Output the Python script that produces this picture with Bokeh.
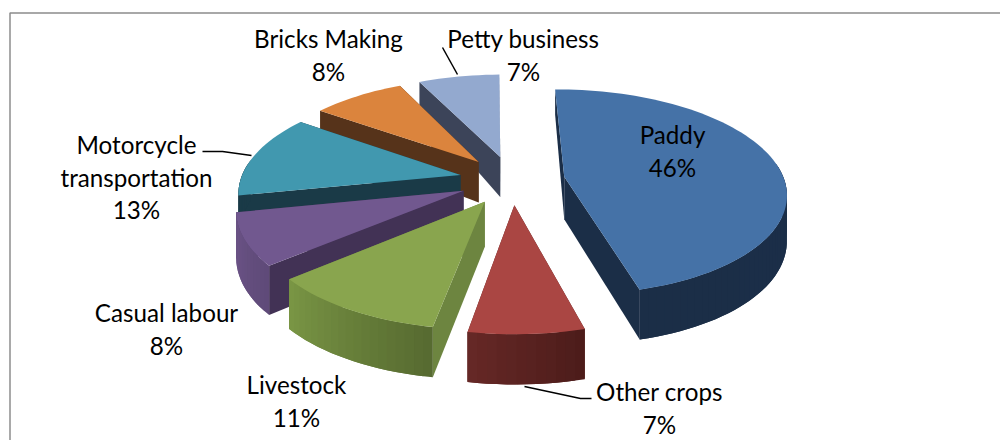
import math

from bokeh.core.properties import value
from bokeh.embed import file_html
from bokeh.models import ColumnDataSource, Range1d
from bokeh.plotting import figure
from bokeh.resources import INLINE

# Income sources and their shares (percent)
categories = ["Paddy", "Other crops", "Livestock", "Casual labour",
              "Motorcycle transportation", "Bricks Making", "Petty business"]
shares = [46, 7, 11, 8, 13, 8, 7]

top_colors = ["#4572A7", "#AA4643", "#89A54E", "#71588F", "#4198AF", "#DB843D", "#93A9CF"]
cut_colors = ["#1B2E47", "#5A2221", "#6D8540", "#423255", "#1A3A47", "#56331A", "#3C4459"]
# Rim shading, from the start angle of a slice to its end angle
rim_from = ["#1B2F4A", "#4C1C1A", "#566A30", "#5E4A78", "#1A3A47", "#56331A", "#3C4459"]
rim_to = ["#1B2E47", "#662826", "#7A9645", "#6D5488", "#1A3A47", "#56331A", "#3C4459"]

# Pie projection
VX, VY = 511.5, 179.5      # projected pie centre on the page
RADIUS = 220.0
TILT = 0.46                # vertical squash of the pie plane
PERSPECTIVE = 0.15
EXPLODE = 53.0
FIRST_ANGLE = math.radians(-0.7)


def wall_depth(yn):
    return 43 + 12 * yn - 5 * yn * yn


def project(px, py):
    s = 1 / (1 - PERSPECTIVE * py / RADIUS)
    return VX + px * s, VY + TILT * py * s


def mix(c0, c1, t):
    a = [int(c0[i:i + 2], 16) for i in (1, 3, 5)]
    b = [int(c1[i:i + 2], 16) for i in (1, 3, 5)]
    return "#%02x%02x%02x" % tuple(round(u + (v - u) * t) for u, v in zip(a, b))


def ground(ex, ey, angle):
    return ex + RADIUS * math.sin(angle), ey - RADIUS * math.cos(angle)


xs, ys, fills = [], [], []


def add_poly(pts, colour):
    xs.append([q[0] for q in pts])
    ys.append([q[1] for q in pts])
    fills.append(colour)


def top_point(g):
    return project(*g)


def low_point(g):
    x, y = project(*g)
    return x, y + wall_depth(g[1] / RADIUS)


# Slices run clockwise from twelve o'clock
slices = []
start = FIRST_ANGLE
for i, share in enumerate(shares):
    sweep = share / sum(shares) * 2 * math.pi
    slices.append((i, start, start + sweep))
    start += sweep

# Paint from the back of the pie to the front
slices.sort(key=lambda s: -math.cos((s[1] + s[2]) / 2))

for i, a0, a1 in slices:
    mid = (a0 + a1) / 2
    ex, ey = EXPLODE * math.sin(mid), -EXPLODE * math.cos(mid)
    apex = (ex, ey)
    steps = max(6, int((a1 - a0) / math.radians(2)))
    rim = [ground(ex, ey, a0 + (a1 - a0) * j / steps) for j in range(steps + 1)]

    # radial cut faces
    for edge in (rim[-1], rim[0]):
        add_poly([top_point(apex), top_point(edge), low_point(edge), low_point(apex)], cut_colors[i])

    # outer wall, only where it turns toward the viewer; each band runs under
    # the next one so no seams open up between them
    for j in range(steps):
        ang = a0 + (a1 - a0) * (j + 0.5) / steps
        if math.cos(ang) < 0.12:
            far = rim[min(j + 2, steps)]
            add_poly([top_point(rim[j]), top_point(rim[j + 1]), top_point(far),
                      low_point(far), low_point(rim[j + 1]), low_point(rim[j])],
                     mix(rim_from[i], rim_to[i], (j + 0.5) / steps))

    # top face
    add_poly([top_point(apex)] + [top_point(g) for g in rim], top_colors[i])

p = figure(width=1000, height=440, output_backend="svg", toolbar_location=None,
           x_range=Range1d(0, 1000), y_range=Range1d(440, 0), min_border=0)
p.axis.visible = False
p.grid.visible = False
p.outline_line_color = None
p.background_fill_color = "white"
p.border_fill_color = "white"

# Chart frame: top and left edges
p.line([9.5, 9.5, 1000], [440, 12.5, 12.5], line_color="#8C8C8C", line_width=1.5)

src = ColumnDataSource(dict(xs=xs, ys=ys, fill=fills))
p.patches("xs", "ys", source=src, fill_color="fill", line_color=None)

# Leader lines
leader_xs = [[442, 457], [202, 222, 251], [524, 580, 591]]
leader_ys = [[47, 74], [151, 151, 155], [386, 398, 398]]
p.multi_line(leader_xs, leader_ys, line_color="black", line_width=1.5)

# Data labels: name lines followed by the percentage
label_lines = {
    "Paddy": (["Paddy"], 672, 134),
    "Other crops": (["Other crops"], 659, 391),
    "Livestock": (["Livestock"], 296, 384),
    "Casual labour": (["Casual labour"], 166, 312),
    "Motorcycle transportation": (["Motorcycle", "transportation"], 136, 144),
    "Bricks Making": (["Bricks Making"], 328, 38),
    "Petty business": (["Petty business"], 523, 38),
}
tx, ty, tt = [], [], []
for name, share in zip(categories, shares):
    lines, cx, cy = label_lines[name]
    for n, line in enumerate(lines + [f"{share}%"]):
        tx.append(cx)
        ty.append(cy + n * 32.5)
        tt.append(line)
p.text(tx, ty, text=tt, text_font=value("Lato"), text_font_size="24.2px", text_color="black",
       text_align="center", text_baseline="middle")

open("out.html", "w").write(file_html(p, INLINE))
